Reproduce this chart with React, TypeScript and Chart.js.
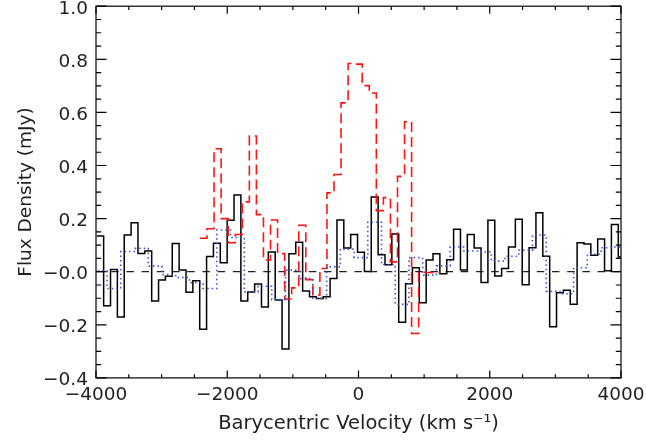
import React, { useEffect, useRef } from "react";
import { Chart, registerables } from "chart.js";

Chart.register(...registerables);

// Black solid histogram: flux per channel (mJy), channel centres from blackStart, width blackWidth
const blackStart = -3935.7;
const blackWidth = 104.56;
const blackFlux = [
  0.134, -0.128, 0.008, -0.171, 0.138, 0.184, 0.069, 0.078, -0.11, -0.031,
  -0.017, 0.106, 0.006, -0.077, -0.034, -0.217, 0.057, 0.107, 0.034, 0.194,
  0.289, -0.11, -0.076, -0.046, -0.133, 0.074, -0.107, -0.291, 0.068, 0.111,
  -0.073, -0.094, -0.101, -0.094, -0.026, 0.195, 0.089, 0.14, 0.073, 0.001,
  0.281, 0.064, 0.026, 0.142, -0.19, -0.045, 0.015, -0.117, 0.044, 0.068,
  -0.008, 0.045, 0.16, 0.006, 0.14, 0.089, -0.041, 0.194, -0.016, 0.012,
  0.093, 0.198, -0.049, 0.09, 0.222, 0.058, -0.207, -0.079, -0.07, -0.123,
  0.109, 0.104, 0.062, 0.123, 0.004, 0.178, 0.055,
];

// Red dashed histogram
const redStart = -2362;
const redWidth = 107.5;
const redFlux = [
  0.126, 0.162, 0.463, 0.2, 0.109, 0.14, 0.263, 0.511, 0.215, 0.044,
  0.195, 0.068, -0.103, -0.061, 0.175, -0.03, -0.088, 0.012, 0.297, 0.366,
  0.636, 0.784, 0.782, 0.701, 0.673, 0.23, 0.279, 0.037, 0.359, 0.565,
  -0.233, -0.002, -0.003, -0.003,
];

// Blue dotted histogram
const blueStart = -3936;
const blueWidth = 209.1;
const blueFlux = [
  0.003, -0.063, 0.076, 0.088, 0.021, -0.011, -0.022, -0.041, -0.063, 0.157,
  0.129, -0.076, -0.055, -0.105, 0.006, -0.026, -0.101, 0.018, 0.085, 0.053,
  0.186, 0.027, -0.123, 0.053, -0.013, 0.022, 0.093, 0.078, 0.074, 0.04,
  0.058, 0.081, 0.138, -0.074, -0.083, 0.015, 0.066, 0.09, 0.093,
];

const zeroLineX = [-4000, 4000];
const zeroLineY = [0, 0];

const xMin = -4000;
const xMax = 4000;
const xMajorStep = 2000;
const xMinorStep = 500;
const yMin = -0.4;
const yMax = 1.0;
const yMajorStep = 0.2;
const yMinorStep = 0.05;

const xTitle = "Barycentric Velocity (km s\u207B\u00B9)";
const yTitle = "Flux Density (mJy)";

function histogram(start: number, width: number, values: number[]) {
  const pts = values.map((v, i) => ({ x: start + width * i - width / 2, y: v }));
  const last = values.length - 1;
  pts.push({ x: start + width * last + width / 2, y: values[last] });
  return pts;
}

const minus = (s: string) => s.replace("-", "\u2212");

const frameTicks = {
  id: "frameTicks",
  afterDraw(chart: any) {
    const { ctx, chartArea: a, scales } = chart;
    const x = scales.x;
    const y = scales.y;
    ctx.save();
    ctx.strokeStyle = "#000";
    ctx.lineWidth = 1.2;
    ctx.strokeRect(a.left, a.top, a.right - a.left, a.bottom - a.top);
    ctx.beginPath();
    const nx = Math.round((xMax - xMin) / xMinorStep);
    for (let k = 0; k <= nx; k++) {
      const v = xMin + k * xMinorStep;
      const px = x.getPixelForValue(v);
      const major = Math.abs(v % xMajorStep) < 1e-6;
      const len = major ? 7.5 : 3.7;
      ctx.moveTo(px, a.bottom);
      ctx.lineTo(px, a.bottom - len);
      ctx.moveTo(px, a.top);
      ctx.lineTo(px, a.top + len);
    }
    const ny = Math.round((yMax - yMin) / yMinorStep);
    const perMajor = Math.round(yMajorStep / yMinorStep);
    for (let k = 0; k <= ny; k++) {
      const v = yMin + k * yMinorStep;
      const py = y.getPixelForValue(v);
      const major = k % perMajor === 0;
      const len = major ? 10.5 : 5.2;
      ctx.moveTo(a.left, py);
      ctx.lineTo(a.left + len, py);
      ctx.moveTo(a.right, py);
      ctx.lineTo(a.right - len, py);
    }
    ctx.stroke();
    ctx.restore();
  },
};

export default function App() {
  const ref = useRef<HTMLCanvasElement | null>(null);
  useEffect(() => {
    if (!ref.current) return;
    const font = { family: "'DejaVu Sans', sans-serif", size: 18.5 };
    const xTitleFont = { family: "'DejaVu Sans', sans-serif", size: 19.5 };
    const chart = new Chart(ref.current, {
      type: "line",
      data: {
        datasets: [
          {
            data: histogram(blueStart, blueWidth, blueFlux),
            borderColor: "rgb(60,85,200)",
            borderWidth: 1.6,
            borderDash: [1.5, 3],
            stepped: "before",
            pointRadius: 0,
            fill: false,
          },
          {
            data: histogram(redStart, redWidth, redFlux),
            borderColor: "rgb(255,20,20)",
            borderWidth: 1.6,
            borderDash: [10, 5],
            stepped: "before",
            pointRadius: 0,
            fill: false,
          },
          {
            data: histogram(blackStart, blackWidth, blackFlux),
            borderColor: "#000",
            borderWidth: 1.5,
            stepped: "before",
            pointRadius: 0,
            fill: false,
          },
          {
            data: zeroLineX.map((v, i) => ({ x: v, y: zeroLineY[i] })),
            borderColor: "#222",
            borderWidth: 1.2,
            borderDash: [7.5, 7.7],
            pointRadius: 0,
            fill: false,
          },
        ],
      },
      options: {
        animation: false,
        responsive: false,
        maintainAspectRatio: false,
        layout: { padding: { top: 6.2, right: 25, left: 0, bottom: 0 } },
        plugins: { legend: { display: false }, tooltip: { enabled: false } },
        elements: { point: { radius: 0 } },
        scales: {
          x: {
            type: "linear",
            min: xMin,
            max: xMax,
            ticks: {
              stepSize: xMajorStep,
              font,
              color: "#222",
              padding: 6,
              maxRotation: 0,
              autoSkip: false,
              callback: (v: any) => minus(String(Math.round(v))),
            },
            grid: { display: false, drawTicks: false },
            border: { display: false },
            title: { display: true, text: xTitle, font: xTitleFont, color: "#222", padding: { top: 0, bottom: 4 } },
            afterFit(s: any) {
              s.height = 62.1;
              s.paddingLeft = 0;
              s.paddingRight = 0;
            },
          },
          y: {
            type: "linear",
            min: yMin,
            max: yMax,
            ticks: {
              stepSize: yMajorStep,
              font,
              color: "#222",
              padding: 8,
              labelOffset: 2.5,
              autoSkip: false,
              callback: (v: any) => minus(Number(v).toFixed(1)),
            },
            grid: { display: false, drawTicks: false },
            border: { display: false },
            title: { display: true, text: yTitle, font, color: "#222", padding: { top: 15, bottom: 0 } },
            afterFit(s: any) {
              s.width = 96;
              s.paddingTop = 0;
              s.paddingBottom = 0;
            },
          },
        },
      },
      plugins: [frameTicks],
    } as any);
    return () => chart.destroy();
  }, []);
  return (
    <div style={{ position: "absolute", left: 0, top: 0, width: 646, height: 440, background: "#fff" }}>
      <canvas ref={ref} width={646} height={440} style={{ display: "block", width: 646, height: 440 }} />
    </div>
  );
}
